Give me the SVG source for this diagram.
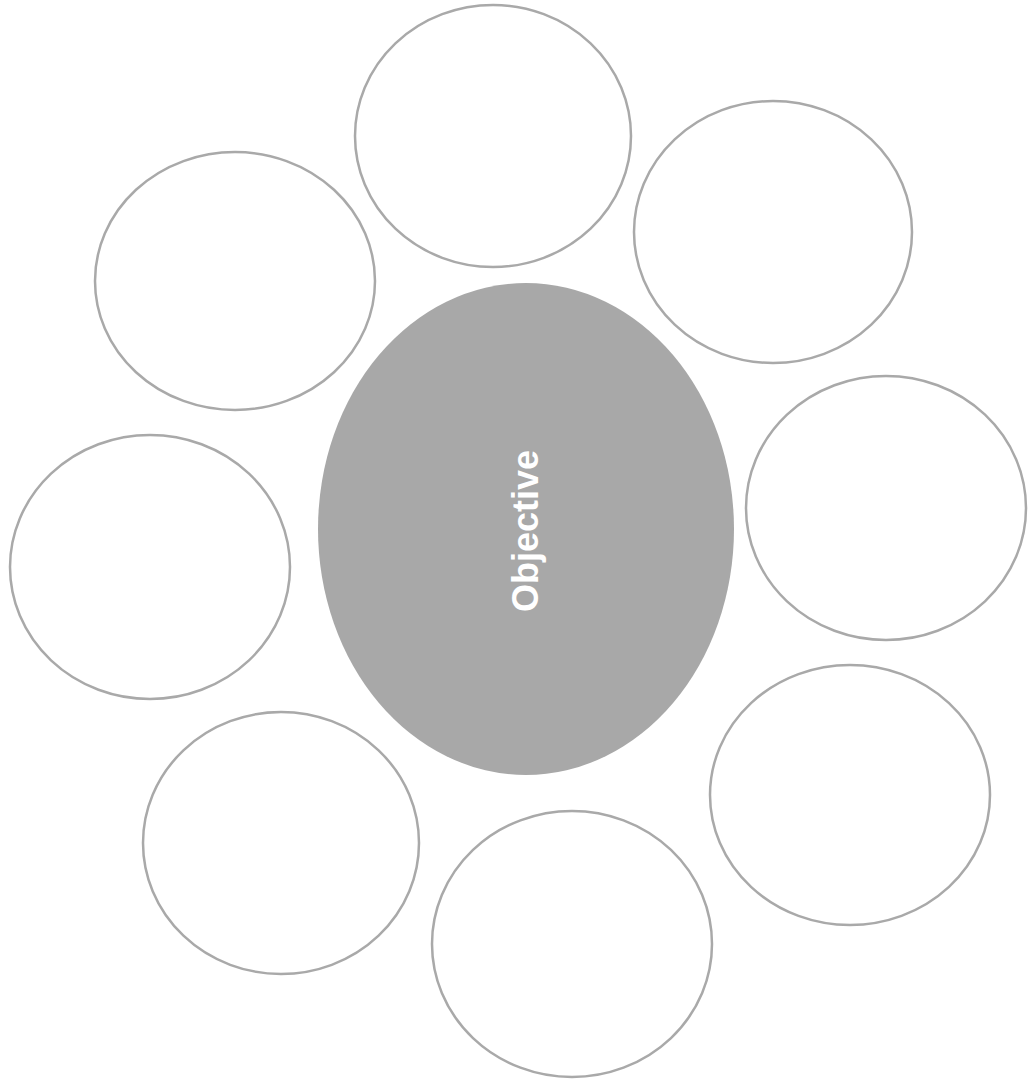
<svg xmlns="http://www.w3.org/2000/svg" width="1031" height="1083" viewBox="0 0 1031 1083">
<style>
.outer{fill:none;stroke:#a9a9a9;stroke-width:2.5}
.hub{fill:#a8a8a8;stroke:none}
.label{font-family:"Liberation Sans",Arial,sans-serif;font-weight:bold;font-size:36px;fill:#ffffff}
</style>
<rect width="1031" height="1083" fill="#ffffff"/>
<g id="connectors"></g>
<g id="node-top"><ellipse class="outer" cx="493" cy="136" rx="138" ry="131"/></g>
<g id="node-upper-right"><ellipse class="outer" cx="773" cy="232" rx="139" ry="131"/></g>
<g id="node-right"><ellipse class="outer" cx="886" cy="508" rx="140" ry="132"/></g>
<g id="node-lower-right"><ellipse class="outer" cx="850" cy="795" rx="140" ry="130"/></g>
<g id="node-bottom"><ellipse class="outer" cx="572" cy="944" rx="140" ry="133"/></g>
<g id="node-lower-left"><ellipse class="outer" cx="281" cy="843" rx="138" ry="131"/></g>
<g id="node-left"><ellipse class="outer" cx="150" cy="567" rx="140" ry="132"/></g>
<g id="node-upper-left"><ellipse class="outer" cx="235" cy="281" rx="140" ry="129"/></g>
<g id="node-center">
<ellipse class="hub" cx="526" cy="529" rx="208" ry="246"/>
<text class="label" transform="translate(538,531) rotate(-90)" text-anchor="middle">Objective</text>
</g>
</svg>
